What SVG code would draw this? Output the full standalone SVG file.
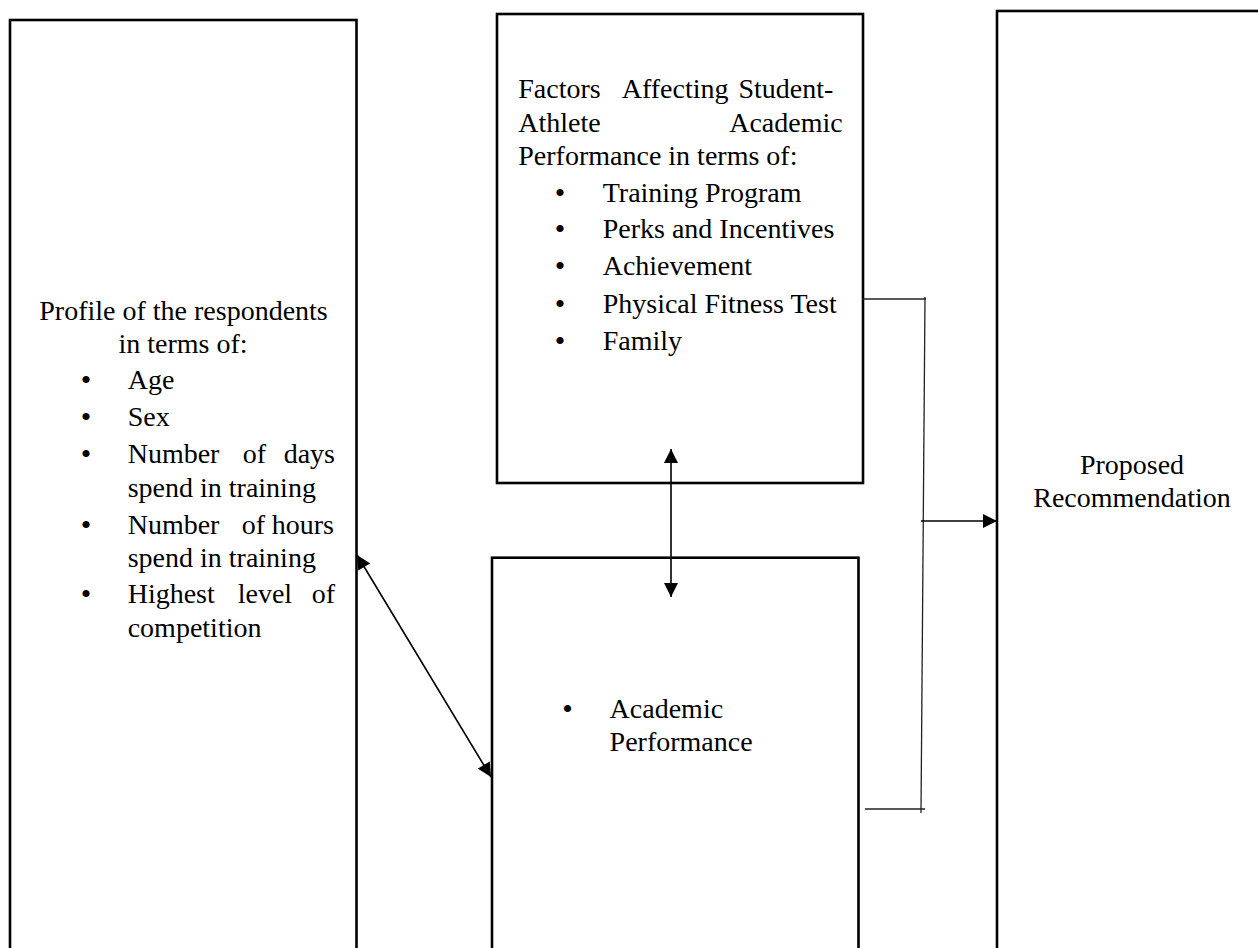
<svg xmlns="http://www.w3.org/2000/svg" width="1258" height="948" viewBox="0 0 1258 948">
<style>
.box{fill:#fff;stroke:#000;stroke-width:2.6}
.t{font-family:"Liberation Serif","Times New Roman",serif;font-size:28px;fill:#000}
.b{font-family:"Liberation Serif","Times New Roman",serif;font-size:30px;fill:#000;text-anchor:middle}
.m{text-anchor:middle}
.e{text-anchor:end}
.c{fill:none;stroke:#000;stroke-width:1.6}
.th{fill:none;stroke:#222;stroke-width:1.3}
</style>
<defs>
<marker id="ah" viewBox="0 0 10 10" refX="10" refY="5" markerUnits="userSpaceOnUse" markerWidth="15" markerHeight="14" orient="auto-start-reverse">
<path d="M0,0 L10,5 L0,10 z" fill="#000"/>
</marker>
</defs>
<rect width="1258" height="948" fill="#fff"/>
<g id="profile">
<rect class="box" x="10" y="20" width="346.5" height="1000"/>
<text class="t m" x="183.5" y="320">Profile of the respondents</text>
<text class="t m" x="183" y="353">in terms of:</text>
<text class="b" x="86" y="389.5">•</text>
<text class="t" x="127.7" y="389">Age</text>
<text class="b" x="86" y="426.5">•</text>
<text class="t" x="127.7" y="426">Sex</text>
<text class="b" x="86" y="463.5">•</text>
<text class="t" x="127.7" y="463">Number</text>
<text class="t" x="242.7" y="463">of</text>
<text class="t e" x="335" y="463">days</text>
<text class="t" x="127.7" y="497">spend in training</text>
<text class="b" x="86" y="534.5">•</text>
<text class="t" x="127.7" y="534">Number</text>
<text class="t" x="241.7" y="534">of</text>
<text class="t e" x="334" y="534">hours</text>
<text class="t" x="127.7" y="567">spend in training</text>
<text class="b" x="86" y="603.5">•</text>
<text class="t" x="127.7" y="603">Highest</text>
<text class="t" x="237.7" y="603">level</text>
<text class="t e" x="335" y="603">of</text>
<text class="t" x="127.7" y="637">competition</text>
</g>
<g id="factors">
<rect class="box" x="497" y="14" width="366" height="469"/>
<text class="t" x="518.3" y="98">Factors</text>
<text class="t" x="621.7" y="98">Affecting</text>
<text class="t e" x="833.3" y="98">Student-</text>
<text class="t" x="518.3" y="132">Athlete</text>
<text class="t e" x="842.7" y="132">Academic</text>
<text class="t" x="518.3" y="165">Performance in terms of:</text>
<text class="b" x="560" y="202.5">•</text>
<text class="t" x="602.7" y="202">Training Program</text>
<text class="b" x="560" y="238.5">•</text>
<text class="t" x="602.7" y="238">Perks and Incentives</text>
<text class="b" x="560" y="275.5">•</text>
<text class="t" x="602.7" y="275">Achievement</text>
<text class="b" x="560" y="313.5">•</text>
<text class="t" x="602.7" y="313">Physical Fitness Test</text>
<text class="b" x="560" y="350.5">•</text>
<text class="t" x="602.7" y="350">Family</text>
</g>
<g id="academic">
<rect class="box" x="492" y="557.7" width="366.5" height="500"/>
<text class="b" x="567.5" y="718.5">•</text>
<text class="t" x="609.6" y="718">Academic</text>
<text class="t" x="609.6" y="751">Performance</text>
</g>
<g id="recommendation">
<rect class="box" x="997" y="11" width="300" height="1000"/>
<text class="t m" x="1132" y="474">Proposed</text>
<text class="t m" x="1132" y="507">Recommendation</text>
</g>
<g id="connectors">
<line class="c" x1="357" y1="555" x2="491" y2="777" marker-start="url(#ah)" marker-end="url(#ah)"/>
<line class="c" x1="671" y1="449" x2="671" y2="597" marker-start="url(#ah)" marker-end="url(#ah)"/>
<line class="th" x1="862" y1="299" x2="926" y2="299"/>
<line class="th" x1="925" y1="297" x2="921" y2="813"/>
<line class="th" x1="865" y1="809" x2="925" y2="809"/>
<line class="c" x1="921" y1="521" x2="997" y2="521" marker-end="url(#ah)"/>
</g>
</svg>
